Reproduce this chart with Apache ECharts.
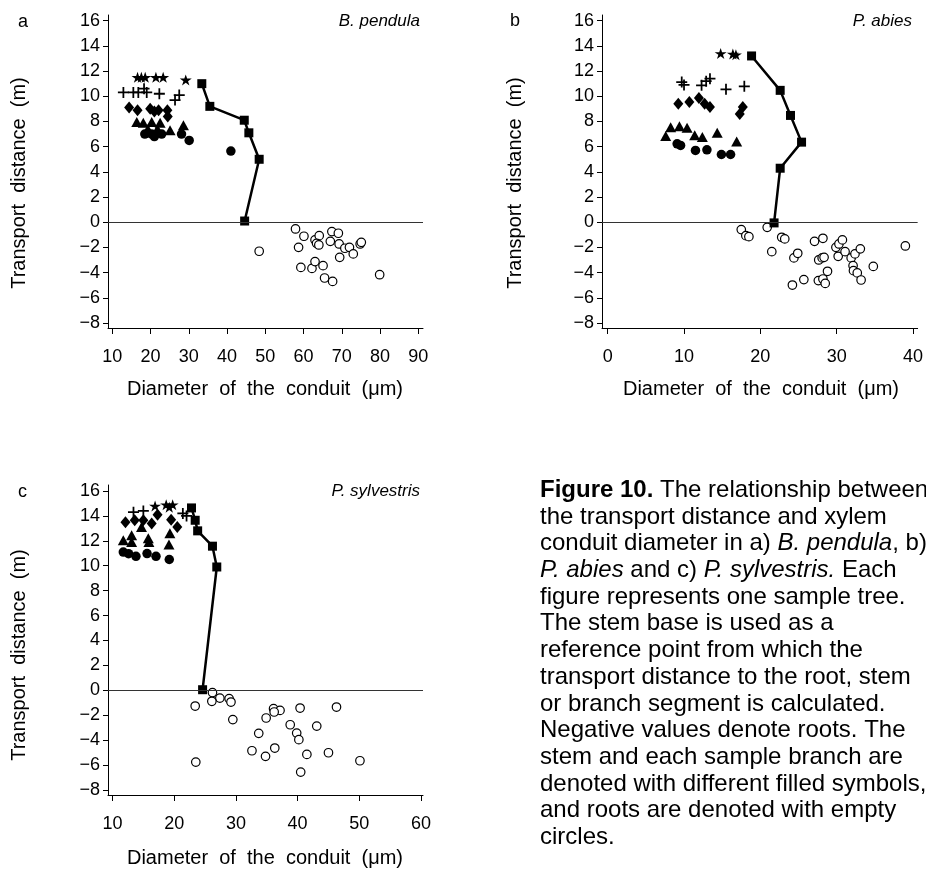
<!DOCTYPE html>
<html>
<head>
<meta charset="utf-8">
<script src="https://cdn.jsdelivr.net/npm/echarts@6/dist/echarts.min.js"></script>
<style>html,body{margin:0;padding:0;background:#fff;}#chart{width:926px;height:875px;}</style>
</head>
<body>
<div id="chart"></div>
<script>
// ---------- Tick values ----------
const yTicks = [-8, -6, -4, -2, 0, 2, 4, 6, 8, 10, 12, 14, 16];
const aXTicks = [10, 20, 30, 40, 50, 60, 70, 80, 90];
const bXTicks = [0, 10, 20, 30, 40];
const cXTicks = [10, 20, 30, 40, 50, 60];

// ---------- Panel a: B. pendula ----------
const aStem = [[33.4, 11.0], [35.5, 9.2], [44.5, 8.1], [45.7, 7.1], [48.4, 5.0], [44.6, 0.1]];
const aStar = [[16.6, 11.5], [17.6, 11.5], [18.6, 11.5], [21.4, 11.5], [23.3, 11.5], [29.2, 11.3]];
const aPlus = [[12.9, 10.3], [15.5, 10.3], [16.8, 10.3], [18.3, 10.6], [19.0, 10.3], [22.3, 10.2], [26.4, 9.7], [27.5, 10.1]];
const aDiamond = [[14.4, 9.1], [16.6, 8.9], [19.9, 9.0], [21.0, 8.8], [22.1, 8.9], [24.4, 8.9], [24.5, 8.4]];
const aTriangle = [[16.4, 7.95], [18.1, 7.9], [20.3, 7.95], [22.5, 7.9], [19.3, 7.4], [21.8, 7.4], [25.1, 7.3], [28.6, 7.7]];
const aCircle = [[18.5, 7.0], [20.3, 7.0], [21.0, 6.8], [22.9, 7.0], [28.1, 7.0], [30.1, 6.5], [41.0, 5.65]];
const aRoot = [[57.9, -0.53], [60.1, -1.11], [48.4, -2.3], [58.7, -1.99], [63.0, -1.40], [64.1, -1.06], [63.4, -1.67], [64.0, -1.80],
  [67.4, -0.74], [69.1, -0.87], [67.0, -1.51], [69.3, -1.72], [70.8, -2.06], [72.0, -1.99], [73.0, -2.51], [69.45, -2.78],
  [74.8, -1.72], [75.1, -1.59], [59.3, -3.58], [62.2, -3.66], [63.0, -3.12], [65.1, -3.44], [65.5, -4.42], [67.6, -4.69], [79.9, -4.16]];

// ---------- Panel b: P. abies ----------
const bStem = [[18.85, 13.2], [22.6, 10.47], [23.95, 8.48], [25.4, 6.36], [22.6, 4.29], [21.8, -0.05]];
const bStar = [[14.8, 13.4], [16.4, 13.35], [16.8, 13.3]];
const bPlus = [[9.7, 11.13], [10.0, 10.9], [12.3, 10.87], [12.9, 11.2], [13.4, 11.4], [15.5, 10.55], [17.9, 10.79]];
const bDiamond = [[9.25, 9.41], [10.7, 9.54], [11.95, 9.86], [12.7, 9.41], [13.4, 9.14], [17.7, 9.14], [17.3, 8.6]];
const bTriangle = [[7.6, 6.84], [8.25, 7.55], [9.4, 7.63], [10.4, 7.5], [11.4, 6.9], [12.4, 6.76], [14.35, 7.1], [16.9, 6.42]];
const bCircle = [[9.1, 6.23], [9.55, 6.1], [11.5, 5.7], [13.0, 5.75], [14.9, 5.38], [16.1, 5.38]];
const bRoot = [[17.5, -0.58], [18.1, -1.06], [18.5, -1.14], [20.9, -0.40], [21.5, -2.33], [22.8, -1.19], [23.2, -1.32], [24.4, -2.83],
  [24.9, -2.46], [24.2, -4.98], [25.7, -4.55], [27.1, -1.51], [28.2, -1.27], [27.6, -4.63], [28.2, -4.5], [28.5, -4.85],
  [28.8, -3.89], [27.65, -2.99], [28.1, -2.83], [28.35, -2.78], [29.9, -1.99], [30.3, -1.72], [30.75, -1.40], [30.2, -2.7],
  [31.1, -2.33], [31.9, -2.83], [32.4, -2.51], [33.1, -2.11], [32.15, -3.44], [32.2, -3.84], [32.7, -4.02], [33.2, -4.58],
  [34.8, -3.5], [39.0, -1.88]];

// ---------- Panel c: P. sylvestris ----------
const cStem = [[22.8, 14.64], [23.4, 13.65], [23.8, 12.8], [26.2, 11.57], [26.9, 9.9], [24.6, 0.05]];
const cStar = [[16.9, 14.8], [18.7, 14.9], [19.2, 14.7], [19.75, 14.9]];
const cPlus = [[13.4, 14.3], [15.0, 14.4], [21.4, 14.2], [22.0, 14.0]];
const cDiamond = [[12.1, 13.5], [13.6, 13.65], [15.0, 13.65], [16.35, 13.4], [17.3, 14.1], [19.5, 13.7], [20.5, 13.1]];
const cTriangle = [[11.75, 12.05], [13.1, 12.45], [13.1, 11.9], [14.7, 13.1], [15.8, 12.2], [15.9, 11.9], [19.3, 12.6], [19.15, 11.7]];
const cCircle = [[11.75, 11.1], [12.6, 10.97], [13.8, 10.76], [15.6, 10.98], [17.05, 10.76], [19.2, 10.5]];
const cRoot = [[26.2, -0.18], [27.4, -0.62], [26.1, -0.88], [28.9, -0.67], [29.2, -0.94], [23.4, -1.26], [29.5, -2.35],
  [36.1, -1.47], [37.15, -1.61], [36.2, -1.74], [40.4, -1.42], [46.3, -1.34], [34.9, -2.22], [38.8, -2.76], [43.1, -2.87],
  [33.7, -3.45], [39.85, -3.43], [40.2, -3.96], [32.6, -4.85], [34.8, -5.3], [36.3, -4.63], [41.5, -5.14], [45.0, -5.01],
  [50.1, -5.65], [23.5, -5.76], [40.5, -6.56]];

const titles = ['B. pendula', 'P. abies', 'P. sylvestris'];
const panelLetters = ['a', 'b', 'c'];
const xTitle = 'Diameter  of  the  conduit  (\u03bcm)';
const yTitle = 'Transport  distance  (m)';

// ---------- Styling / layout ----------
const FONT = '"Liberation Sans", Arial, Helvetica, sans-serif';
const STAR = 'path://M10,0L12.245,6.91L19.511,6.91L13.633,11.18L15.878,18.09L10,13.82L4.122,18.09L6.367,11.18L0.489,6.91L7.755,6.91Z';
const PLUS = 'path://M4.2,0H5.8V4.2H10V5.8H5.8V10H4.2V5.8H0V4.2H4.2Z';

const grids = [
  { left: 108, top: 15, width: 315, height: 313 },
  { left: 602, top: 15, width: 316, height: 313 },
  { left: 108, top: 485, width: 315, height: 310 }
];
const xRanges = [[8.876, 91.23], [-0.746, 40.61], [9.27, 60.32]];
const yRanges = [[-8.39, 16.45], [-8.39, 16.45], [-8.40, 16.48]];
const xTicksAll = [aXTicks, bXTicks, cXTicks];
const panels = [
  { stem: aStem, star: aStar, plus: aPlus, diamond: aDiamond, tri: aTriangle, circ: aCircle, root: aRoot },
  { stem: bStem, star: bStar, plus: bPlus, diamond: bDiamond, tri: bTriangle, circ: bCircle, root: bRoot },
  { stem: cStem, star: cStar, plus: cPlus, diamond: cDiamond, tri: cTriangle, circ: cCircle, root: cRoot }
];

const fmt = v => (v < 0 ? '\u2212' + Math.abs(v) : String(v));
const BLACK = { color: '#000', opacity: 1 };

const xAxes = [], yAxes = [], series = [];
panels.forEach((p, i) => {
  xAxes.push({
    type: 'value', gridIndex: i, min: xRanges[i][0], max: xRanges[i][1],
    axisLine: { show: true, onZero: false, lineStyle: { color: '#000', width: 1 } },
    axisTick: { show: true, length: 6, customValues: xTicksAll[i], lineStyle: { color: '#000', width: 1 } },
    axisLabel: { show: true, customValues: xTicksAll[i], formatter: fmt, margin: 20, color: '#000', fontSize: 18, fontFamily: FONT },
    splitLine: { show: false }
  });
  yAxes.push({
    type: 'value', gridIndex: i, min: yRanges[i][0], max: yRanges[i][1],
    axisLine: { show: true, onZero: false, lineStyle: { color: '#000', width: 1 } },
    axisTick: { show: true, length: 5, customValues: yTicks, lineStyle: { color: '#000', width: 1 } },
    axisLabel: { show: true, customValues: yTicks, formatter: fmt, margin: 8, color: '#000', fontSize: 18, fontFamily: FONT },
    splitLine: { show: false }
  });
  const base = { xAxisIndex: i, yAxisIndex: i, animation: false, silent: true };
  series.push(Object.assign({}, base, {
    type: 'scatter', data: p.root, symbol: 'circle', symbolSize: 8.5,
    itemStyle: { color: '#fff', borderColor: '#000', borderWidth: 1.2, opacity: 1 },
    markLine: { silent: true, symbol: 'none', label: { show: false }, animation: false,
      lineStyle: { color: '#333', width: 1.2, type: 'solid' }, data: [{ yAxis: 0 }] }
  }));
  series.push(Object.assign({}, base, {
    type: 'line', data: p.stem, symbol: 'rect', symbolSize: 9, showSymbol: true,
    lineStyle: { color: '#000', width: 2.5 }, itemStyle: BLACK
  }));
  series.push(Object.assign({}, base, { type: 'scatter', data: p.circ, symbol: 'circle', symbolSize: 9.5, itemStyle: BLACK }));
  series.push(Object.assign({}, base, { type: 'scatter', data: p.tri, symbol: 'triangle', symbolSize: [11, 10], itemStyle: BLACK }));
  series.push(Object.assign({}, base, { type: 'scatter', data: p.diamond, symbol: 'diamond', symbolSize: [10, 12], itemStyle: BLACK }));
  series.push(Object.assign({}, base, { type: 'scatter', data: p.plus, symbol: PLUS, symbolSize: 11, itemStyle: BLACK }));
  series.push(Object.assign({}, base, { type: 'scatter', data: p.star, symbol: STAR, symbolSize: [12, 11], itemStyle: BLACK }));
});

const txt = (text, x, y, opts) => Object.assign({
  type: 'text', x: x, y: y, silent: true,
  style: Object.assign({ text: text, fill: '#000', font: '18px ' + FONT, textAlign: 'left', textVerticalAlign: 'middle' }, opts || {})
});
const TITLE_FONT = '20px ' + FONT;

const graphics = [
  // panel letters
  txt(panelLetters[0], 18, 22),
  txt(panelLetters[1], 510, 21),
  txt(panelLetters[2], 18, 492),
  // panel titles
  txt(titles[0], 420, 21, { font: 'italic 17px ' + FONT, textAlign: 'right' }),
  txt(titles[1], 912, 21, { font: 'italic 17px ' + FONT, textAlign: 'right' }),
  txt(titles[2], 420, 491, { font: 'italic 17px ' + FONT, textAlign: 'right' }),
  // x axis titles
  txt(xTitle, 265, 389, { font: TITLE_FONT, textAlign: 'center' }),
  txt(xTitle, 761, 389, { font: TITLE_FONT, textAlign: 'center' }),
  txt(xTitle, 265, 858, { font: TITLE_FONT, textAlign: 'center' }),
  // y axis titles (rotated)
  Object.assign(txt(yTitle, 0, 0, { font: TITLE_FONT, textAlign: 'center' }), { x: 19, y: 183, rotation: Math.PI / 2 }),
  Object.assign(txt(yTitle, 0, 0, { font: TITLE_FONT, textAlign: 'center' }), { x: 515, y: 183, rotation: Math.PI / 2 }),
  Object.assign(txt(yTitle, 0, 0, { font: TITLE_FONT, textAlign: 'center' }), { x: 19, y: 655, rotation: Math.PI / 2 }),
  // caption
  {
    type: 'text', x: 540, y: 477, silent: true,
    style: {
      text: '{b|Figure 10.} The relationship between\n' +
        'the transport distance and xylem\n' +
        'conduit diameter in a) {i|B. pendula}, b)\n' +
        '{i|P. abies} and c) {i|P. sylvestris.} Each\n' +
        'figure represents one sample tree.\n' +
        'The stem base is used as a\n' +
        'reference point from which the\n' +
        'transport distance to the root, stem\n' +
        'or branch segment is calculated.\n' +
        'Negative values denote roots. The\n' +
        'stem and each sample branch are\n' +
        'denoted with different filled symbols,\n' +
        'and roots are denoted with empty\n' +
        'circles.',
      fill: '#000', fontSize: 24, fontFamily: FONT, lineHeight: 26.7,
      textAlign: 'left', textVerticalAlign: 'top',
      rich: {
        b: { fontWeight: 'bold', fontSize: 24, fontFamily: FONT, lineHeight: 26.7, fill: '#000' },
        i: { fontStyle: 'italic', fontSize: 24, fontFamily: FONT, lineHeight: 26.7, fill: '#000' }
      }
    }
  }
];

const chart = echarts.init(document.getElementById('chart'), null, { renderer: 'canvas' });
chart.setOption({
  backgroundColor: '#fff',
  animation: false,
  grid: grids,
  xAxis: xAxes,
  yAxis: yAxes,
  series: series,
  graphic: graphics
});
</script>
</body>
</html>
